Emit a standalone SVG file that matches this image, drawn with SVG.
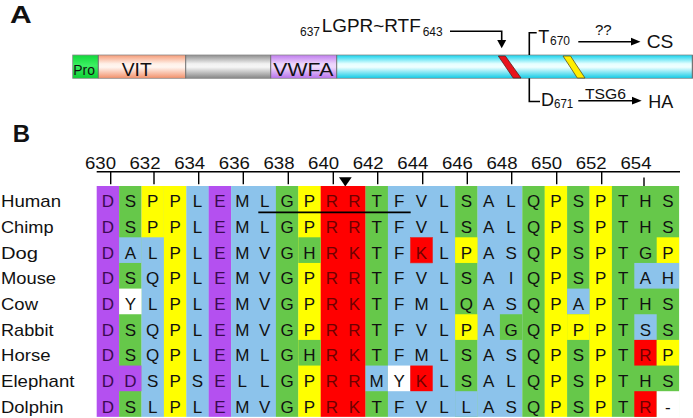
<svg xmlns="http://www.w3.org/2000/svg" width="693" height="418" viewBox="0 0 693 418">
<defs>
<style>
text{font-family:"Liberation Sans",Arial,sans-serif;fill:#111}
.lbl{font-size:17px}
.aa{font-size:17px;text-anchor:middle}
.num{font-size:16px;text-anchor:middle}
.p{fill:#3c0a52}
.r{fill:#700000}
.U{fill:#b450f0}.G{fill:#66c84a}.Y{fill:#ffff00}.B{fill:#8cc3eb}.R{fill:#ff0000}.W{fill:#ffffff}
.seg{stroke:#6a6a6a;stroke-width:1}
.ln{stroke:#000;stroke-width:1.6;fill:none}
</style>
<linearGradient id="gVIT" x1="0" y1="0" x2="0" y2="1"><stop offset="0" stop-color="#f59a76"/><stop offset="0.38" stop-color="#fff1e9"/><stop offset="0.52" stop-color="#fff6f1"/><stop offset="1" stop-color="#f2906a"/></linearGradient>
<linearGradient id="gGray" x1="0" y1="0" x2="0" y2="1"><stop offset="0" stop-color="#8e8e8e"/><stop offset="0.38" stop-color="#f2f2f2"/><stop offset="0.52" stop-color="#f6f6f6"/><stop offset="1" stop-color="#858585"/></linearGradient>
<linearGradient id="gVW" x1="0" y1="0" x2="0" y2="1"><stop offset="0" stop-color="#bf7bee"/><stop offset="0.38" stop-color="#ecd4fb"/><stop offset="0.52" stop-color="#efdafc"/><stop offset="1" stop-color="#b872ec"/></linearGradient>
<linearGradient id="gCy" x1="0" y1="0" x2="0" y2="1"><stop offset="0" stop-color="#14d2ec"/><stop offset="0.38" stop-color="#e6ffff"/><stop offset="0.52" stop-color="#f0ffff"/><stop offset="1" stop-color="#10cbe6"/></linearGradient>
<linearGradient id="gPro" x1="0" y1="0" x2="0" y2="1"><stop offset="0" stop-color="#10d83a"/><stop offset="0.45" stop-color="#3cf062"/><stop offset="1" stop-color="#0ccf34"/></linearGradient>
</defs>

<!-- Panel A -->
<text x="10" y="22.7" style="font-size:24.5px;font-weight:bold" textLength="21.7" lengthAdjust="spacingAndGlyphs">A</text>

<g id="domain-bar">
<rect x="72.7" y="55" width="25.6" height="23.3" fill="url(#gPro)"/>
<rect x="98.3" y="55" width="87.4" height="23.3" fill="url(#gVIT)"/>
<rect x="185.7" y="55" width="85" height="23.3" fill="url(#gGray)"/>
<rect x="270.7" y="55" width="66" height="23.3" fill="url(#gVW)"/>
<rect x="336.7" y="55" width="355.8" height="23.3" fill="url(#gCy)"/>
<rect x="72.7" y="55" width="619.8" height="23.3" fill="none" stroke="#8a8a8a" stroke-width="0.8"/>
<line class="seg" x1="98.3" y1="55" x2="98.3" y2="78.3"/>
<line class="seg" x1="185.7" y1="55" x2="185.7" y2="78.3"/>
<line class="seg" x1="270.7" y1="55" x2="270.7" y2="78.3"/>
<line class="seg" x1="336.7" y1="55" x2="336.7" y2="78.3"/>
<line class="seg" x1="692.3" y1="55" x2="692.3" y2="78.3"/>
<text x="73.3" y="75" style="font-size:14px" textLength="21.7" lengthAdjust="spacingAndGlyphs">Pro</text>
<text x="121.7" y="76" style="font-size:18.5px" textLength="30" lengthAdjust="spacingAndGlyphs">VIT</text>
<text x="273.3" y="76" style="font-size:18.5px" textLength="60" lengthAdjust="spacingAndGlyphs">VWFA</text>
<polygon points="498.3,56 505.3,56 521,78 513.2,78" fill="#e8141c" stroke="#5a2020" stroke-width="0.8"/>
<polygon points="563,56 570.5,56 585,78 577.3,78" fill="#ffee00" stroke="#5a5020" stroke-width="0.8"/>
</g>

<g id="site-label">
<text x="300" y="36" style="font-size:12px" textLength="20" lengthAdjust="spacingAndGlyphs">637</text>
<text x="321.7" y="32" style="font-size:18.5px" textLength="99" lengthAdjust="spacingAndGlyphs">LGPR~RTF</text>
<text x="422.7" y="36" style="font-size:12px" textLength="20" lengthAdjust="spacingAndGlyphs">643</text>
</g>

<g id="cleavage-labels">
<text x="538.3" y="42.5" style="font-size:18px">T</text>
<text x="550" y="44.5" style="font-size:12px" textLength="20" lengthAdjust="spacingAndGlyphs">670</text>
<text x="595" y="35" style="font-size:14px" textLength="16.7" lengthAdjust="spacingAndGlyphs">??</text>
<text x="646.7" y="47.7" style="font-size:18px" textLength="26.7" lengthAdjust="spacingAndGlyphs">CS</text>
<text x="541" y="106" style="font-size:18px">D</text>
<text x="554" y="108.3" style="font-size:12px" textLength="19.3" lengthAdjust="spacingAndGlyphs">671</text>
<text x="585" y="99.3" style="font-size:14px" textLength="41" lengthAdjust="spacingAndGlyphs">TSG6</text>
<text x="648.3" y="107.7" style="font-size:18px" textLength="25" lengthAdjust="spacingAndGlyphs">HA</text>
</g>

<g id="connectors-A">
<path class="ln" d="M450,31.3 H501.7 V41"/>
<polygon points="497.2,40 506.2,40 501.7,48.3" fill="#000"/>
<path class="ln" d="M536.7,32.7 H529.3 V55"/>
<path class="ln" d="M529.3,78.3 V101.5 H540"/>
<line class="ln" x1="578.3" y1="41.7" x2="632" y2="41.7"/>
<polygon points="631,37.8 640.5,41.7 631,45.6" fill="#000"/>
<line class="ln" x1="578.3" y1="100.7" x2="633" y2="100.7"/>
<polygon points="632,96.8 641.7,100.7 632,104.6" fill="#000"/>
</g>

<!-- Panel B -->
<text x="12.7" y="141.7" style="font-size:23px;font-weight:bold" textLength="17.3" lengthAdjust="spacingAndGlyphs">B</text>

<g id="ruler">
<line x1="96.7" y1="171.7" x2="680" y2="171.7" stroke="#000" stroke-width="1.6"/>
<path stroke="#000" stroke-width="1.4" fill="none" d="M110.7,171.7V184.3M154,171.7V184.3M198.7,171.7V184.3M243.3,171.7V184.3M288.3,171.7V184.3M333.3,171.7V184.3M377.7,171.7V184.3M422.7,171.7V184.3M467.3,171.7V184.3M511.7,171.7V184.3M556.7,171.7V184.3M601.7,171.7V184.3M644,177.5V188"/>
<g class="num">
<text x="100.5" y="169" textLength="31" lengthAdjust="spacingAndGlyphs">630</text>
<text x="145" y="169" textLength="31" lengthAdjust="spacingAndGlyphs">632</text>
<text x="189.7" y="169" textLength="31" lengthAdjust="spacingAndGlyphs">634</text>
<text x="234.3" y="169" textLength="31" lengthAdjust="spacingAndGlyphs">636</text>
<text x="279" y="169" textLength="31" lengthAdjust="spacingAndGlyphs">638</text>
<text x="323.6" y="169" textLength="31" lengthAdjust="spacingAndGlyphs">640</text>
<text x="368.2" y="169" textLength="31" lengthAdjust="spacingAndGlyphs">642</text>
<text x="412.8" y="169" textLength="31" lengthAdjust="spacingAndGlyphs">644</text>
<text x="457.4" y="169" textLength="31" lengthAdjust="spacingAndGlyphs">646</text>
<text x="502" y="169" textLength="31" lengthAdjust="spacingAndGlyphs">648</text>
<text x="546.6" y="169" textLength="31" lengthAdjust="spacingAndGlyphs">650</text>
<text x="591.2" y="169" textLength="31" lengthAdjust="spacingAndGlyphs">652</text>
<text x="636" y="169" textLength="31" lengthAdjust="spacingAndGlyphs">654</text>
</g>
<polygon points="339,177.3 351.7,177.3 345.3,186.5" fill="#000"/>
</g>

<g id="alignment-bg">
<rect class="U" x="96.7" y="186" width="22.6" height="230.85"/>
<rect class="G" x="119.1" y="186" width="22.6" height="230.85"/>
<rect class="B" x="141.5" y="186" width="22.6" height="230.85"/>
<rect class="Y" x="163.9" y="186" width="22.6" height="230.85"/>
<rect class="B" x="186.3" y="186" width="22.6" height="230.85"/>
<rect class="U" x="208.7" y="186" width="22.6" height="230.85"/>
<rect class="B" x="231.1" y="186" width="45" height="230.85"/>
<rect class="G" x="275.9" y="186" width="22.6" height="230.85"/>
<rect class="Y" x="298.3" y="186" width="22.6" height="230.85"/>
<rect class="R" x="320.7" y="186" width="45" height="230.85"/>
<rect class="G" x="365.5" y="186" width="22.6" height="230.85"/>
<rect class="B" x="387.9" y="186" width="67.4" height="230.85"/>
<rect class="G" x="455.1" y="186" width="22.6" height="230.85"/>
<rect class="B" x="477.5" y="186" width="45" height="230.85"/>
<rect class="G" x="522.3" y="186" width="22.6" height="230.85"/>
<rect class="Y" x="544.7" y="186" width="22.6" height="230.85"/>
<rect class="G" x="567.1" y="186" width="22.6" height="230.85"/>
<rect class="Y" x="589.5" y="186" width="22.6" height="230.85"/>
<rect class="G" x="611.9" y="186" width="67.2" height="230.85"/>
<!-- overrides -->
<rect class="B" x="119.1" y="237.3" width="22.4" height="25.65"/>
<rect class="W" x="119.1" y="288.6" width="22.4" height="25.65"/>
<rect class="U" x="119.1" y="365.55" width="22.4" height="25.65"/>
<rect class="Y" x="141.5" y="186" width="22.4" height="51.3"/>
<rect class="G" x="298.3" y="237.3" width="22.4" height="25.65"/>
<rect class="G" x="298.3" y="339.9" width="22.4" height="25.65"/>
<rect class="B" x="365.5" y="365.55" width="22.4" height="25.65"/>
<rect class="W" x="387.9" y="365.55" width="22.4" height="25.65"/>
<rect class="R" x="410.3" y="237.3" width="22.4" height="25.65" stroke="#d04040" stroke-width="0.6"/>
<rect class="R" x="410.3" y="365.55" width="22.4" height="25.65"/>
<rect class="Y" x="455.1" y="237.3" width="22.4" height="25.65"/>
<rect class="Y" x="455.1" y="314.25" width="22.4" height="25.65"/>
<rect class="B" x="455.1" y="391.2" width="22.4" height="25.65"/>
<rect class="G" x="499.9" y="314.25" width="22.4" height="25.65"/>
<rect class="B" x="567.1" y="288.6" width="22.4" height="25.65"/>
<rect class="Y" x="567.1" y="314.25" width="22.4" height="25.65"/>
<rect class="B" x="634.3" y="262.95" width="44.8" height="25.65"/>
<rect class="B" x="634.3" y="314.25" width="22.4" height="25.65"/>
<rect class="R" x="634.3" y="339.9" width="22.4" height="25.65"/>
<rect class="R" x="634.3" y="391.2" width="22.4" height="25.65"/>
<rect class="Y" x="656.7" y="237.3" width="22.4" height="25.65"/>
<rect class="Y" x="656.7" y="339.9" width="22.4" height="25.65"/>
<rect class="W" x="656.7" y="391.2" width="23" height="26"/>
</g>

<line id="motif-underline" x1="258.3" y1="212.3" x2="410.7" y2="212.3" stroke="#000" stroke-width="1.8"/>

<g id="species-labels" class="lbl">
<text x="1" y="207.3" textLength="60" lengthAdjust="spacingAndGlyphs">Human</text>
<text x="1" y="232.95" textLength="52.5" lengthAdjust="spacingAndGlyphs">Chimp</text>
<text x="1" y="258.6" textLength="37" lengthAdjust="spacingAndGlyphs">Dog</text>
<text x="1" y="284.25" textLength="55" lengthAdjust="spacingAndGlyphs">Mouse</text>
<text x="1" y="309.9" textLength="37" lengthAdjust="spacingAndGlyphs">Cow</text>
<text x="1" y="335.55" textLength="52.5" lengthAdjust="spacingAndGlyphs">Rabbit</text>
<text x="1" y="361.2" textLength="49.5" lengthAdjust="spacingAndGlyphs">Horse</text>
<text x="1" y="386.85" textLength="73.5" lengthAdjust="spacingAndGlyphs">Elephant</text>
<text x="1" y="412.5" textLength="62.5" lengthAdjust="spacingAndGlyphs">Dolphin</text>
</g>

<g id="sequences" class="aa">
<text y="207.3" x="107.9 130.3 152.7 175.1 197.5 219.9 242.3 264.7 287.1 309.5 331.9 354.3 376.7 399.1 421.5 443.9 466.3 488.7 511.1 533.5 555.9 578.3 600.7 623.1 645.5 667.9"><tspan class="p">D</tspan>SPPL<tspan class="p">E</tspan>MLGP<tspan class="r">RR</tspan>TFVLSALQPSPTHS</text>
<text y="232.95" x="107.9 130.3 152.7 175.1 197.5 219.9 242.3 264.7 287.1 309.5 331.9 354.3 376.7 399.1 421.5 443.9 466.3 488.7 511.1 533.5 555.9 578.3 600.7 623.1 645.5 667.9"><tspan class="p">D</tspan>SPPL<tspan class="p">E</tspan>MLGP<tspan class="r">RR</tspan>TFVLSALQPSPTHS</text>
<text y="258.6" x="107.9 130.3 152.7 175.1 197.5 219.9 242.3 264.7 287.1 309.5 331.9 354.3 376.7 399.1 421.5 443.9 466.3 488.7 511.1 533.5 555.9 578.3 600.7 623.1 645.5 667.9"><tspan class="p">D</tspan>ALPL<tspan class="p">E</tspan>MVGH<tspan class="r">RK</tspan>TF<tspan class="r">K</tspan>LPASQPSPTGP</text>
<text y="284.25" x="107.9 130.3 152.7 175.1 197.5 219.9 242.3 264.7 287.1 309.5 331.9 354.3 376.7 399.1 421.5 443.9 466.3 488.7 511.1 533.5 555.9 578.3 600.7 623.1 645.5 667.9"><tspan class="p">D</tspan>SQPL<tspan class="p">E</tspan>MVGP<tspan class="r">RR</tspan>TFVLSAIQPSPTAH</text>
<text y="309.9" x="107.9 130.3 152.7 175.1 197.5 219.9 242.3 264.7 287.1 309.5 331.9 354.3 376.7 399.1 421.5 443.9 466.3 488.7 511.1 533.5 555.9 578.3 600.7 623.1 645.5 667.9"><tspan class="p">D</tspan>YLPL<tspan class="p">E</tspan>MVGP<tspan class="r">RK</tspan>TFMLQASQPAPTHS</text>
<text y="335.55" x="107.9 130.3 152.7 175.1 197.5 219.9 242.3 264.7 287.1 309.5 331.9 354.3 376.7 399.1 421.5 443.9 466.3 488.7 511.1 533.5 555.9 578.3 600.7 623.1 645.5 667.9"><tspan class="p">D</tspan>SQPL<tspan class="p">E</tspan>MVGP<tspan class="r">RR</tspan>TFVLPAGQPPPTSS</text>
<text y="361.2" x="107.9 130.3 152.7 175.1 197.5 219.9 242.3 264.7 287.1 309.5 331.9 354.3 376.7 399.1 421.5 443.9 466.3 488.7 511.1 533.5 555.9 578.3 600.7 623.1 645.5 667.9"><tspan class="p">D</tspan>SQPL<tspan class="p">E</tspan>MLGH<tspan class="r">RK</tspan>TFMLSASQPSPT<tspan class="r">R</tspan>P</text>
<text y="386.85" x="107.9 130.3 152.7 175.1 197.5 219.9 242.3 264.7 287.1 309.5 331.9 354.3 376.7 399.1 421.5 443.9 466.3 488.7 511.1 533.5 555.9 578.3 600.7 623.1 645.5 667.9"><tspan class="p">DD</tspan>SPS<tspan class="p">E</tspan>LLGP<tspan class="r">RR</tspan>MY<tspan class="r">K</tspan>LSALQPSPTHS</text>
<text y="412.5" x="107.9 130.3 152.7 175.1 197.5 219.9 242.3 264.7 287.1 309.5 331.9 354.3 376.7 399.1 421.5 443.9 466.3 488.7 511.1 533.5 555.9 578.3 600.7 623.1 645.5 667.9"><tspan class="p">D</tspan>SLPL<tspan class="p">E</tspan>MVGP<tspan class="r">RK</tspan>TFVLLASQPSPT<tspan class="r">R</tspan>-</text>
</g>
</svg>
